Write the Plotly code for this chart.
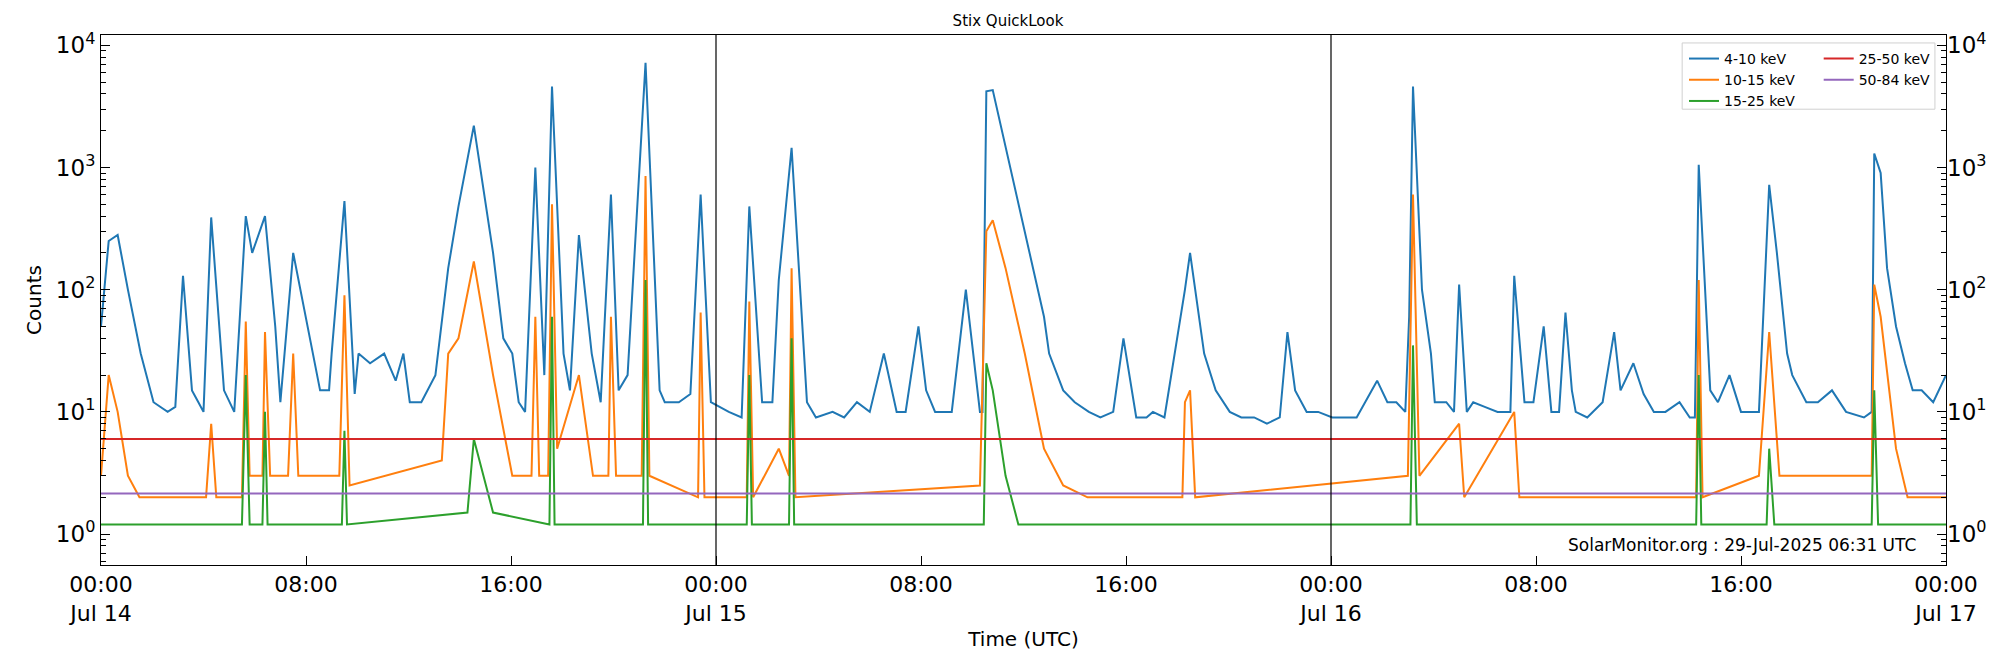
import numpy as np
import pandas as pd
import plotly.graph_objects as go

# ── Data (hours after 2025-07-14 00:00 UTC, counts) ──────────────────────────
T0 = pd.Timestamp("2025-07-14 00:00")

# 4-10 keV: flare peaks and their shoulders
h_4_10 = [0, 0.3, 0.65, 1.05, 1.55, 2.05, 3.2, 3.55, 4.3, 4.8, 5.65, 5.9, 6.4, 6.8, 7.5, 8.05, 8.55,
          9.5, 10.05, 11.05, 12.05, 13.05, 13.55, 13.95, 14.55, 15.3, 16.05, 16.55, 16.95, 17.3, 17.6,
          18.05, 18.65, 19.15, 19.9, 20.55, 21.25, 21.8, 22.55, 23.4, 23.8, 25.3, 25.8, 26.45, 26.95,
          27.55, 28.55, 30.55, 31.05, 31.9, 32.55, 33.75, 34.3, 34.55, 34.8, 35.3, 36.05, 36.8, 37.55,
          38.55, 39.9, 41.05, 42.3, 42.5, 43.05, 44.05, 46.3, 47.05, 48.05, 49.8, 50.55, 51.05, 51.2,
          51.55, 52.05, 53.0, 53.55, 55.15, 55.55, 56.3, 57.15, 57.55, 59.05, 59.8, 61.05, 62.35, 62.8,
          63.55, 65.1, 65.8, 66.55, 67.55, 69.2, 69.45, 70.05, 71.05, 72]
c_4_10 = [50, 250, 280, 100, 30, 12, 130, 15, 390, 15, 400, 200, 400, 50, 200, 50, 15,
          530, 30, 30, 12, 20, 150, 480, 2200, 200, 30, 10, 1000, 20, 4600,
          30, 280, 30, 600, 20, 7200, 15, 12, 600, 12, 480, 12, 120, 1450,
          12, 10, 30, 10, 50, 10, 100, 10, 4200, 4300, 1500, 300, 60, 15,
          10, 40, 10, 100, 200, 30, 10, 45, 10, 9, 18, 12, 60, 4600,
          100, 12, 110, 12, 130, 12, 50, 65, 10, 45, 25, 10, 1050, 15,
          20, 720, 30, 12, 15, 1300, 900, 50, 15, 20]
# 4-10 keV: background level between flares
hb_4_10 = [2.6, 2.9, 3.8, 4.0, 5.2, 7.0, 8.9, 9.0, 9.9, 10.5, 11.5, 11.8, 12.5, 15.7, 16.3, 18.3,
           19.5, 20.2, 22.0, 23.0, 24.5, 25.0, 26.2, 27.9, 29.0, 29.5, 30.0, 31.4, 32.2, 33.2, 34.4,
           37.0, 38.0, 39.0, 39.5, 40.4, 40.8, 41.5, 43.5, 44.5, 45.0, 45.5, 46.0, 46.6, 47.5, 48.5,
           49.0, 50.2, 50.9, 51.9, 52.5, 52.8, 53.3, 54.0, 54.5, 55.0, 55.9, 56.6, 56.9, 57.4, 58.0,
           58.6, 59.3, 60.2, 60.6, 61.6, 62.0, 62.2, 63.1, 64.0, 64.7, 65.4, 66.0, 67.0, 68.1, 68.8,
           69.1, 69.7, 70.4, 70.7, 71.5]
cb_4_10 = [10, 11, 12, 10, 10, 12, 15, 30, 14, 25, 18, 30, 12, 40, 12, 15,
           12, 15, 12, 14, 10, 9, 12, 9, 9, 12, 10, 10, 15, 10, 10,
           30, 12, 9, 10, 9, 9, 9, 15, 9, 9, 8, 9, 15, 10, 9,
           9, 12, 10, 30, 12, 10, 10, 11, 10, 10, 12, 10, 10, 15, 9,
           12, 15, 14, 10, 12, 9, 9, 12, 10, 10, 200, 20, 12, 10, 9,
           10, 150, 25, 15, 12]

h_10_15 = [0, 0.3, 0.65, 1.05, 1.5, 4.1, 4.3, 4.5, 5.5, 5.65, 5.8, 6.3, 6.4, 6.6, 7.3, 7.5, 7.7, 9.3,
           9.5, 9.7, 13.3, 13.55, 13.95, 14.55, 15.3, 16.05, 16.8, 16.95, 17.1, 17.45, 17.6, 17.8,
           18.65, 19.2, 19.8, 19.9, 20.1, 21.1, 21.25, 21.4, 23.3, 23.4, 23.55, 25.2, 25.3, 25.45,
           26.45, 26.85, 26.95, 27.1, 34.3, 34.55, 34.8, 35.3, 36.05, 36.8, 37.55, 38.5, 42.2, 42.3,
           42.5, 42.7, 51.0, 51.2, 51.45, 53.0, 53.2, 55.15, 55.35, 62.25, 62.35, 62.5, 64.7, 65.1,
           65.5, 69.1, 69.2, 69.45, 70.05, 70.5, 72]
c_10_15 = [3, 20, 10, 3, 2, 2, 8, 2, 2, 55, 3, 3, 45, 3, 3, 30, 3, 3,
           90, 2.5, 4, 30, 40, 170, 20, 3, 3, 60, 3, 3, 500, 5,
           20, 3, 3, 60, 3, 3, 850, 3, 2, 65, 2, 2, 80, 2,
           5, 3, 150, 2, 2.5, 300, 370, 150, 30, 5, 2.5, 2, 2, 12,
           15, 2, 3, 600, 3, 8, 2, 10, 2, 2, 120, 2, 3, 45,
           3, 3, 110, 60, 5, 2, 2]

h_15_25 = [0, 5.5, 5.65, 5.8, 6.3, 6.4, 6.5, 9.4, 9.5, 9.6, 14.3, 14.55, 15.3, 17.5, 17.6, 17.7,
           21.15, 21.25, 21.35, 25.2, 25.3, 25.4, 26.85, 26.95, 27.05, 34.45, 34.55, 34.8, 35.3, 35.8,
           51.1, 51.2, 51.35, 62.25, 62.35, 62.45, 65.0, 65.1, 65.3, 69.1, 69.2, 69.35, 72]
c_15_25 = [1.2, 1.2, 20, 1.2, 1.2, 10, 1.2, 1.2, 7, 1.2, 1.5, 6, 1.5, 1.2, 60, 1.2,
           1.2, 120, 1.2, 1.2, 20, 1.2, 1.2, 40, 1.2, 1.2, 25, 15, 3, 1.2,
           1.2, 35, 1.2, 1.2, 20, 1.2, 1.2, 5, 1.2, 1.2, 15, 1.2, 1.2]

h_25_50 = [0, 72]
c_25_50 = [6.0, 6.0]
h_50_84 = [0, 72]
c_50_84 = [2.15, 2.15]

x_ticks_h = [0, 8, 16, 24, 32, 40, 48, 56, 64, 72]
x_tick_text = ["00:00<br>Jul 14", "08:00", "16:00", "00:00<br>Jul 15", "08:00", "16:00",
               "00:00<br>Jul 16", "08:00", "16:00", "00:00<br>Jul 17"]


def to_time(hours):
    return [T0 + pd.Timedelta(hours=h) for h in hours]


# merge peaks with background samples, in time order
hh = np.array(h_4_10 + hb_4_10)
cc = np.array(c_4_10 + cb_4_10)
order = np.argsort(hh, kind="stable")
h_blue, c_blue = hh[order].tolist(), cc[order].tolist()

series = [
    ("4-10 keV", h_blue, c_blue, "#1f77b4", "legend"),
    ("10-15 keV", h_10_15, c_10_15, "#ff7f0e", "legend"),
    ("15-25 keV", h_15_25, c_15_25, "#2ca02c", "legend"),
    ("25-50 keV", h_25_50, c_25_50, "#d62728", "legend2"),
    ("50-84 keV", h_50_84, c_50_84, "#9467bd", "legend2"),
]

fig = go.Figure()
for name, h, c, color, leg in series:
    fig.add_trace(go.Scatter(x=to_time(h), y=c, mode="lines", name=name,
                             line=dict(color=color, width=2), legend=leg))

# dummy trace so the right-hand axis renders
fig.add_trace(go.Scatter(x=to_time([0]), y=[1], yaxis="y2", mode="markers",
                         marker=dict(opacity=0), showlegend=False, hoverinfo="skip"))

for d in [24, 48]:
    fig.add_vline(x=T0 + pd.Timedelta(hours=d), line=dict(color="black", width=1.2))

# legend frame
fig.add_shape(type="rect", xref="paper", yref="paper", x0=0.857, x1=0.994, y0=0.86, y1=0.985,
              line=dict(color="#d0d0d0", width=1), fillcolor="rgba(255,255,255,0.8)", layer="above")

yvals = [1, 10, 100, 1000, 10000]
ytext = ["10<sup>0</sup>", "10<sup>1</sup>", "10<sup>2</sup>", "10<sup>3</sup>", "10<sup>4</sup>"]
minor_vals = [m * 10 ** k for k in range(-1, 4) for m in range(2, 10)]
yaxis_common = dict(type="log", range=[-0.253, 4.084], tickvals=yvals, ticktext=ytext,
                    ticks="inside", ticklen=9, tickcolor="black", showgrid=False,
                    tickfont=dict(size=23, color="black"),
                    minor=dict(tickvals=minor_vals, ticks="inside", ticklen=5, tickcolor="black"))

fig.update_layout(
    width=2000, height=650,
    plot_bgcolor="white", paper_bgcolor="white",
    font=dict(family="DejaVu Sans", color="black"),
    title=dict(text="Stix QuickLook", x=0.5, xanchor="center", y=0.98, yanchor="middle",
               font=dict(size=15)),
    margin=dict(l=93, r=62, t=27, b=91),
    xaxis=dict(range=[T0, T0 + pd.Timedelta(hours=72)], tickvals=to_time(x_ticks_h),
               ticktext=x_tick_text, ticks="inside", ticklen=9, tickcolor="black",
               showgrid=False, showline=True, linecolor="black", mirror=True,
               tickfont=dict(size=22), title=dict(text="Time (UTC)", font=dict(size=20), standoff=6)),
    yaxis=dict(**yaxis_common, showline=True, linecolor="black", mirror=True,
               title=dict(text="Counts", font=dict(size=20), standoff=8)),
    yaxis2=dict(**yaxis_common, overlaying="y", side="right"),
    legend=dict(x=0.858, y=0.985, xanchor="left", yanchor="top", bgcolor="rgba(0,0,0,0)",
                font=dict(size=14), tracegroupgap=0),
    legend2=dict(x=0.931, y=0.985, xanchor="left", yanchor="top", bgcolor="rgba(0,0,0,0)",
                 font=dict(size=14)),
    annotations=[dict(text="SolarMonitor.org : 29-Jul-2025 06:31 UTC", xref="paper", yref="paper",
                      x=0.985, y=0.015, xanchor="right", yanchor="bottom", showarrow=False,
                      font=dict(size=17))],
)

fig.write_html("out.html")
